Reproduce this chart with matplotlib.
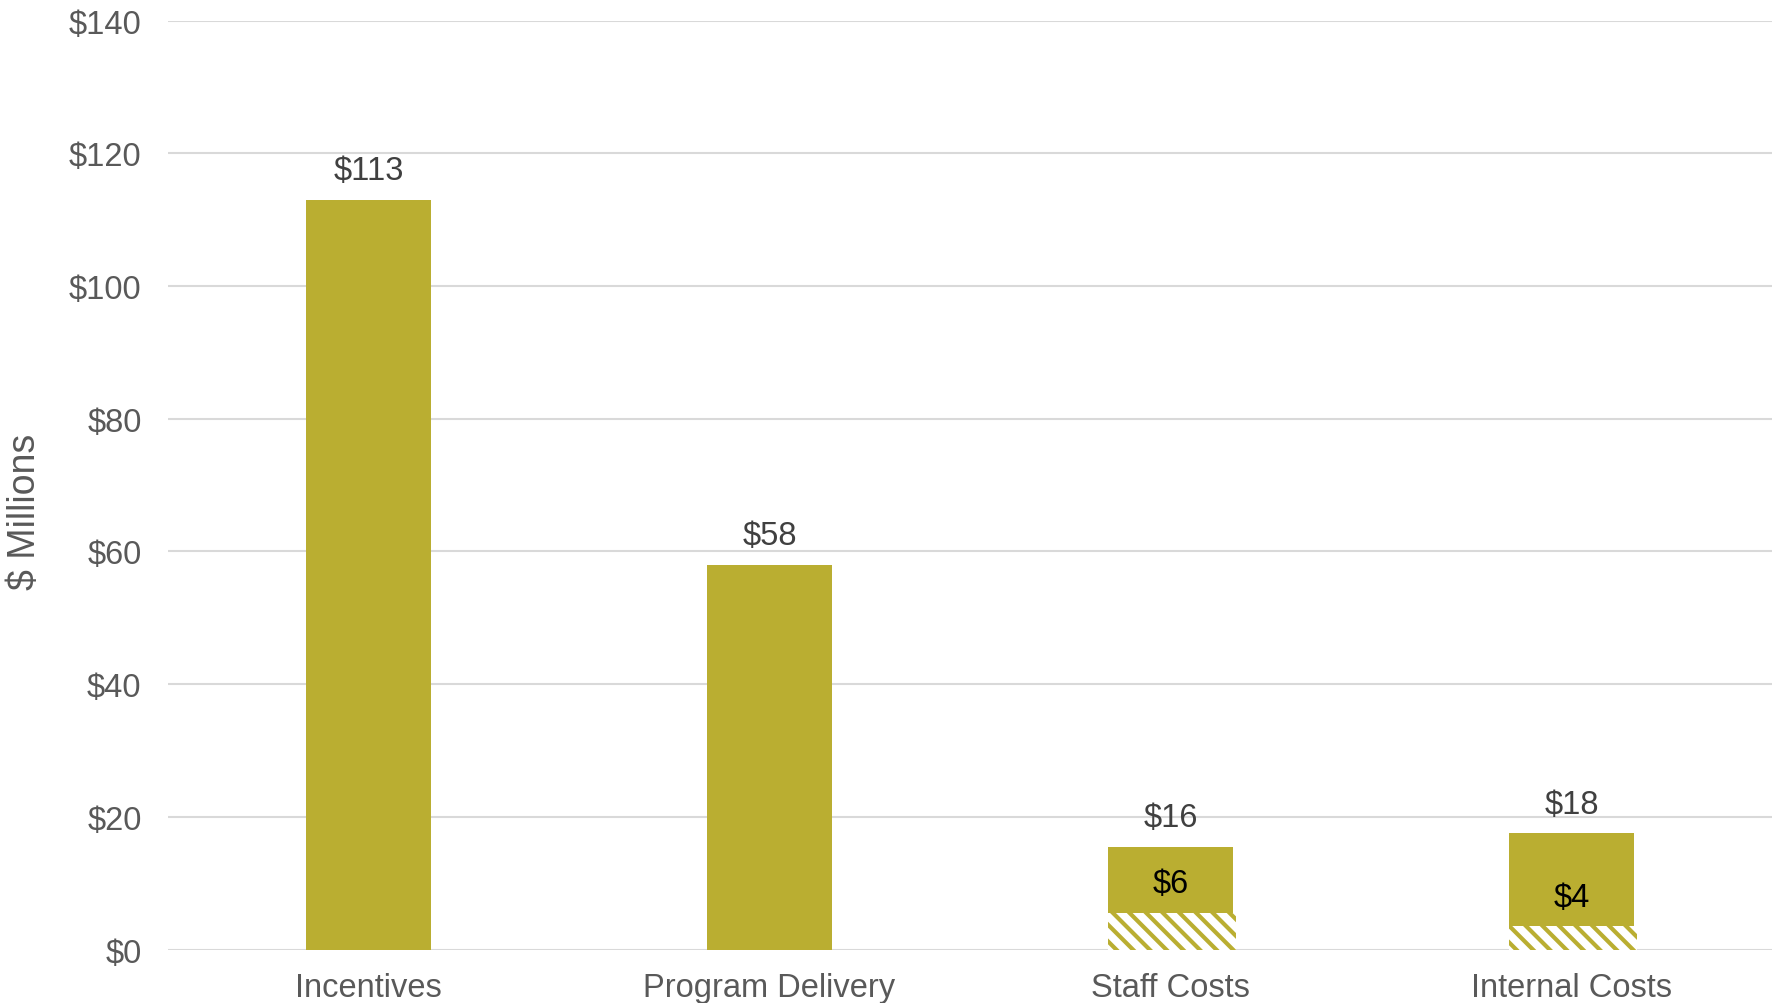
#!/usr/bin/env python
# -*- coding: utf-8 -*-
"""Budget breakdown by category ($ millions), with a hatched sub-portion."""
import matplotlib
matplotlib.use("Agg")
import matplotlib.pyplot as plt

categories = ["Incentives", "Program Delivery", "Staff Costs", "Internal Costs"]
totals = [113, 58, 15.5, 17.5]
# portion of each total shown hatched (None = no sub-portion)
sub_portion = [None, None, 5.5, 3.5]
y_ticks = [0, 20, 40, 60, 80, 100, 120, 140]

OLIVE = "#BAAE31"
GRID = "#D9D9D9"
TEXT = "#595959"
FS = 23.5

plt.rcParams["font.family"] = ["Liberation Sans", "DejaVu Sans"]
plt.rcParams["hatch.linewidth"] = 3.0
plt.rcParams["hatch.color"] = OLIVE

fig = plt.figure(figsize=(17.83, 10.04), dpi=100)
ax = fig.add_axes([0.0942, 0.0532, 0.8996, 0.9253])

x = list(range(len(categories)))
width = 0.31

bars = ax.bar(x, totals, width=width, color=OLIVE, zorder=2)
for rect, v in zip(bars, totals):
    ax.annotate(f"${v:.0f}", (rect.get_x() + rect.get_width() / 2, v),
                xytext=(0, 21), textcoords="offset points",
                ha="center", va="center", fontsize=FS, color="#404040")

for xi, v in zip(x, sub_portion):
    if v is None:
        continue
    ax.bar(xi + 0.004, v, width=width + 0.008, color="white",
           hatch="\\\\", edgecolor=OLIVE, linewidth=0, zorder=3)
    ax.annotate(f"${v:.0f}", (xi, v), xytext=(0, 21),
                textcoords="offset points", ha="center", va="center",
                fontsize=FS, color="black", zorder=4)

ax.set_xlim(-0.5, len(categories) - 0.5)
ax.set_ylim(0, 140)
ax.set_yticks(y_ticks)
ax.set_yticklabels([f"${t}" for t in y_ticks])
ax.set_xticks(x)
ax.set_xticklabels(categories)
ax.tick_params(axis="y", length=0, pad=19, labelsize=FS, labelcolor=TEXT)
ax.tick_params(axis="x", length=0, pad=16, labelsize=FS, labelcolor=TEXT)
ax.yaxis.grid(True, color=GRID, linewidth=1.5, zorder=0)
ax.set_axisbelow(True)
for s in ax.spines.values():
    s.set_visible(False)

fig.text(25 / 1783, 1 - 512 / 1004, "$ Millions", rotation=90,
         ha="center", va="center", fontsize=27, color=TEXT)

fig.savefig("out.png", dpi=100)
